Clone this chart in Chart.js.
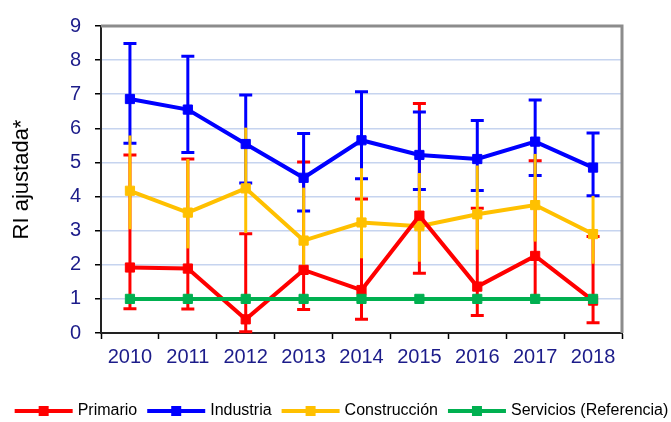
<!DOCTYPE html>
<html>
<head>
<meta charset="utf-8">
<script src="https://cdn.jsdelivr.net/npm/chart.js@4/dist/chart.umd.min.js"></script>
<style>
  body { margin: 0; background: #fff; }
  #wrap { width: 671px; height: 422px; }
</style>
</head>
<body>
<div id="wrap"><canvas id="chart" width="671" height="422"></canvas></div>
<script>
// datos
const years = ['2010', '2011', '2012', '2013', '2014', '2015', '2016', '2017', '2018'];
const yTicks = [0, 1, 2, 3, 4, 5, 6, 7, 8, 9];

const primario = [1.92, 1.89, 0.40, 1.85, 1.26, 3.44, 1.36, 2.26, 0.95];
const primarioLow = [0.71, 0.70, 0.04, 0.69, 0.40, 1.75, 0.51, 0.98, 0.30];
const primarioHigh = [5.22, 5.10, 2.91, 5.01, 3.93, 6.73, 3.66, 5.05, 2.83];

const industria = [6.86, 6.55, 5.54, 4.55, 5.65, 5.22, 5.10, 5.61, 4.85];
const industriaLow = [5.56, 5.29, 4.40, 3.58, 4.52, 4.21, 4.18, 4.62, 4.02];
const industriaHigh = [8.49, 8.11, 6.98, 5.85, 7.07, 6.48, 6.23, 6.83, 5.86];

const construccion = [4.17, 3.53, 4.24, 2.71, 3.24, 3.13, 3.48, 3.75, 2.90];
const construccionLow = [3.04, 2.48, 2.93, 1.87, 2.19, 2.09, 2.44, 2.68, 2.03];
const construccionHigh = [5.79, 5.10, 6.02, 4.26, 4.83, 4.69, 4.91, 5.25, 4.02];

const servicios = [1, 1, 1, 1, 1, 1, 1, 1, 1];

const ROJO = '#ff0000', AZUL = '#0000ff', AMARILLO = '#ffc000', VERDE = '#00b050';
const NAVY = '#1c1c8a';
const FONT = "'Liberation Sans', Arial, sans-serif";

// barras de error (rojo, azul, amarillo encima)
const errorBars = [
    { low: primarioLow, high: primarioHigh, color: ROJO, cap: true },
    { low: industriaLow, high: industriaHigh, color: AZUL, cap: true },
    { low: construccionLow, high: construccionHigh, color: AMARILLO, cap: false }
];

const series = [
    { label: 'Primario', data: primario, color: ROJO, order: 1 },
    { label: 'Industria', data: industria, color: AZUL, order: 2 },
    { label: 'Construcción', data: construccion, color: AMARILLO, order: 3 },
    { label: 'Servicios (Referencia)', data: servicios, color: VERDE, order: 0 }
];

const errorBarPlugin = {
    id: 'errorBars',
    beforeDatasetsDraw(chart) {
        const ctx = chart.ctx;
        const x = chart.scales.x, y = chart.scales.y;
        ctx.save();
        ctx.lineWidth = 3;
        errorBars.forEach(eb => {
            ctx.strokeStyle = eb.color;
            years.forEach((yr, i) => {
                const px = x.getPixelForValue(i);
                const y1 = y.getPixelForValue(eb.low[i]);
                const y2 = y.getPixelForValue(eb.high[i]);
                ctx.beginPath();
                ctx.moveTo(px, y1);
                ctx.lineTo(px, y2);
                if (eb.cap) {
                    ctx.moveTo(px - 6.5, y1); ctx.lineTo(px + 6.5, y1);
                    ctx.moveTo(px - 6.5, y2); ctx.lineTo(px + 6.5, y2);
                }
                ctx.stroke();
            });
        });
        ctx.restore();
    }
};

// marco gris arriba y a la derecha
const framePlugin = {
    id: 'frame',
    beforeDatasetsDraw(chart) {
        const a = chart.chartArea, ctx = chart.ctx;
        ctx.save();
        ctx.strokeStyle = '#8c8c8c';
        ctx.lineWidth = 3;
        ctx.beginPath();
        ctx.moveTo(a.left, a.top);
        ctx.lineTo(a.right, a.top);
        ctx.lineTo(a.right, a.bottom);
        ctx.stroke();
        ctx.restore();
    }
};

// leyenda en una sola fila debajo del grafico
const legendPlugin = {
    id: 'legendRow',
    afterDraw(chart) {
        const ctx = chart.ctx;
        const lineW = 58, gapText = 5, gapItem = 10, y = 411;
        ctx.save();
        ctx.font = '16px ' + FONT;
        ctx.textBaseline = 'middle';
        const widths = series.map(s => ctx.measureText(s.label).width);
        let total = 0;
        widths.forEach(w => { total += lineW + gapText + w; });
        total += gapItem * (series.length - 1);
        let x = 341.5 - total / 2;
        series.forEach((s, i) => {
            ctx.fillStyle = s.color;
            ctx.fillRect(x, y - 2, lineW, 4);
            ctx.fillRect(x + lineW / 2 - 5, y - 5, 10, 10);
            ctx.fillStyle = '#000';
            ctx.fillText(s.label, x + lineW + gapText, y);
            x += lineW + gapText + widths[i] + gapItem;
        });
        ctx.restore();
    }
};

new Chart(document.getElementById('chart'), {
    type: 'line',
    data: {
        labels: years,
        datasets: series.map(s => ({
            label: s.label,
            data: s.data,
            borderColor: s.color,
            backgroundColor: s.color,
            borderWidth: 4,
            pointStyle: 'rect',
            pointRadius: 6.5,
            pointBorderWidth: 1,
            tension: 0,
            order: s.order
        }))
    },
    options: {
        responsive: false,
        devicePixelRatio: 1,
        animation: false,
        layout: { padding: { left: 0, right: 49, top: 22, bottom: 36 } },
        plugins: {
            tooltip: { enabled: false },
            legend: { display: false }
        },
        scales: {
            x: {
                offset: true,
                grid: { offset: true, drawOnChartArea: false, tickLength: 6, tickColor: '#000', tickWidth: 1.5 },
                border: { color: '#222', width: 2 },
                ticks: { color: NAVY, padding: 6, maxRotation: 0, font: { family: FONT, size: 20 } },
                afterFit(scale) { scale.height = 53; }
            },
            y: {
                min: 0,
                max: 9,
                afterBuildTicks(scale) { scale.ticks = yTicks.map(v => ({ value: v })); },
                grid: {
                    color: c => (c.tick && (c.tick.value === 0 || c.tick.value === 9)) ? 'rgba(0,0,0,0)' : '#c6d4ef',
                    lineWidth: 1.5,
                    tickLength: 6,
                    tickColor: '#000',
                    tickWidth: 1.5
                },
                border: { color: '#222', width: 2 },
                ticks: { color: NAVY, padding: 14, font: { family: FONT, size: 20 } },
                title: {
                    display: true,
                    text: 'RI ajustada*',
                    color: '#000',
                    padding: { top: 9, bottom: 0 },
                    font: { family: FONT, size: 22 }
                },
                afterFit(scale) { scale.width = 101; }
            }
        }
    },
    plugins: [errorBarPlugin, framePlugin, legendPlugin]
});
</script>
</body>
</html>
